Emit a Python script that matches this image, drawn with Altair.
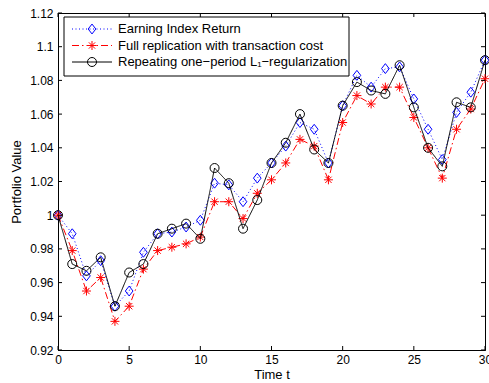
import altair as alt
import pandas as pd

# Portfolio value over time for three tracking strategies
t = list(range(31))
earning = [1.000, 0.989, 0.964, 0.973, 0.946, 0.955, 0.978, 0.989, 0.990, 0.993,
           0.997, 1.019, 1.018, 1.008, 1.022, 1.031, 1.041, 1.055, 1.051, 1.031,
           1.065, 1.083, 1.076, 1.087, 1.088, 1.069, 1.051, 1.033, 1.061, 1.073, 1.092]
full_rep = [1.000, 0.979, 0.955, 0.963, 0.937, 0.946, 0.968, 0.979, 0.981, 0.983,
            0.987, 1.008, 1.008, 0.998, 1.013, 1.021, 1.031, 1.045, 1.041, 1.021,
            1.055, 1.071, 1.066, 1.076, 1.076, 1.058, 1.040, 1.022, 1.051, 1.063, 1.081]
l1_reg = [1.000, 0.971, 0.967, 0.975, 0.946, 0.966, 0.971, 0.989, 0.992, 0.995,
          0.986, 1.028, 1.019, 0.992, 1.009, 1.031, 1.043, 1.060, 1.039, 1.031,
          1.065, 1.079, 1.074, 1.072, 1.089, 1.064, 1.040, 1.029, 1.067, 1.064, 1.092]

names = ["Earning Index Return",
         "Full replication with transaction cost",
         "Repeating one\u2212period L\u2081\u2212regularization"]
x_ticks = [0, 5, 10, 15, 20, 25, 30]
y_ticks = [0.92, 0.94, 0.96, 0.98, 1.00, 1.02, 1.04, 1.06, 1.08, 1.10, 1.12]

FONT = "Liberation Sans"
XMIN, XMAX = 0, 30
YMIN, YMAX = 0.92, 1.12
W, H = 427, 337

# long-format table
rows = []
for k, (nm, vals) in enumerate(zip(names, [earning, full_rep, l1_reg])):
    for ti, v in zip(t, vals):
        rows.append({"t": ti, "value": v, "series": nm, "key": k})
df = pd.DataFrame(rows)

color_scale = alt.Scale(domain=names, range=["#0000ff", "#ff0000", "#000000"])
dash_scale = alt.Scale(domain=names, range=[[1, 2.5], [7, 3, 1.5, 3], [1, 0]])
diamond = "M0,-1.1L0.85,0L0,1.1L-0.85,0Z"
star = "M-1,0L1,0M0,-1L0,1M-0.7,-0.7L0.7,0.7M-0.7,0.7L0.7,-0.7"
shape_scale = alt.Scale(domain=names, range=[diamond, star, "circle"])

x_axis = alt.Axis(values=x_ticks, title="Time t", ticks=False,
                  labelPadding=4, titlePadding=3, format="d",
                  labelOverlap=False, labelFlush=False, labelBound=False)
y_axis = alt.Axis(values=y_ticks, title="Portfolio Value", ticks=False,
                  labelPadding=5, titlePadding=6,
                  labelOverlap=False, labelFlush=False, labelBound=False,
                  labelExpr="abs(datum.value - 1) < 1e-9 ? '1' : (abs(datum.value - 1.1) < 1e-9 ? '1.1' : format(datum.value, '.2f'))")
x_enc = alt.X("t:Q", scale=alt.Scale(domain=[XMIN, XMAX], nice=False), axis=x_axis)
y_enc = alt.Y("value:Q", scale=alt.Scale(domain=[YMIN, YMAX], nice=False, zero=False), axis=y_axis)

base = alt.Chart(df)
layers = []
for k, nm in enumerate(names):
    sub = base.transform_filter(alt.datum.key == k)
    line = sub.mark_line(strokeWidth=1).encode(
        x=x_enc, y=y_enc,
        color=alt.Color("series:N", scale=color_scale, legend=None),
        strokeDash=alt.StrokeDash("series:N", scale=dash_scale, legend=None),
    )
    pts = sub.mark_point(filled=False, size=81, strokeWidth=1, opacity=1).encode(
        x=x_enc, y=y_enc,
        color=alt.Color("series:N", scale=color_scale, legend=None),
        shape=alt.Shape("series:N", scale=shape_scale, legend=None),
    )
    layers += [line, pts]

# inward tick marks on all four sides of the box
dx = 4 * (XMAX - XMIN) / W
dy = 4 * (YMAX - YMIN) / H
tick_rows = []
for xv in x_ticks:
    tick_rows.append({"t": xv, "t2": xv, "value": YMIN, "value2": YMIN + dy})
    tick_rows.append({"t": xv, "t2": xv, "value": YMAX, "value2": YMAX - dy})
for yv in y_ticks:
    tick_rows.append({"t": XMIN, "t2": XMIN + dx, "value": yv, "value2": yv})
    tick_rows.append({"t": XMAX, "t2": XMAX - dx, "value": yv, "value2": yv})
ticks = alt.Chart(pd.DataFrame(tick_rows)).mark_rule(color="black", strokeWidth=1).encode(
    x=x_enc, x2="t2:Q", y=y_enc, y2="value2:Q")

plot = alt.layer(*layers, ticks)

# legend box in the upper-left corner of the plot area (pixel offsets from the plot origin)
leg_df = pd.DataFrame({"series": names, "row": [0, 1, 2]})
row_y = alt.Y("row:Q", scale=alt.Scale(domain=[0, 2], range=[16, 49]), axis=None)
box = alt.Chart(pd.DataFrame({"a": [0]})).mark_rect(
    fill="white", stroke="black", strokeWidth=1).encode(
    x=alt.value(6), x2=alt.value(291), y=alt.value(4), y2=alt.value(63))
leg_line = alt.Chart(leg_df).mark_rule(strokeWidth=1).encode(
    x=alt.value(14), x2=alt.value(54), y=row_y,
    color=alt.Color("series:N", scale=color_scale, legend=None),
    strokeDash=alt.StrokeDash("series:N", scale=dash_scale, legend=None))
leg_pt = alt.Chart(leg_df).mark_point(filled=False, size=81, strokeWidth=1, opacity=1).encode(
    x=alt.value(34), y=row_y,
    color=alt.Color("series:N", scale=color_scale, legend=None),
    shape=alt.Shape("series:N", scale=shape_scale, legend=None))
leg_txt = alt.Chart(leg_df).mark_text(
    align="left", baseline="middle", font=FONT, fontSize=13, color="black").encode(
    x=alt.value(60), y=row_y, text="series:N")
legend = alt.layer(box, leg_line, leg_pt, leg_txt)

chart = alt.layer(plot, legend).resolve_scale(y="independent").properties(
    width=W, height=H, autosize="none",
    padding={"left": 58, "top": 13, "right": 4, "bottom": 33},
    background="white",
).configure_view(stroke="black", strokeWidth=1).configure_axis(
    grid=False, domainColor="black", domainWidth=1,
    labelOverlap=False, labelFlush=False,
    labelFont=FONT, labelFontSize=12, labelColor="black",
    titleFont=FONT, titleFontSize=13, titleFontWeight="normal", titleColor="black",
)

chart.save("out.html", embed_options={"renderer": "svg", "actions": False})
